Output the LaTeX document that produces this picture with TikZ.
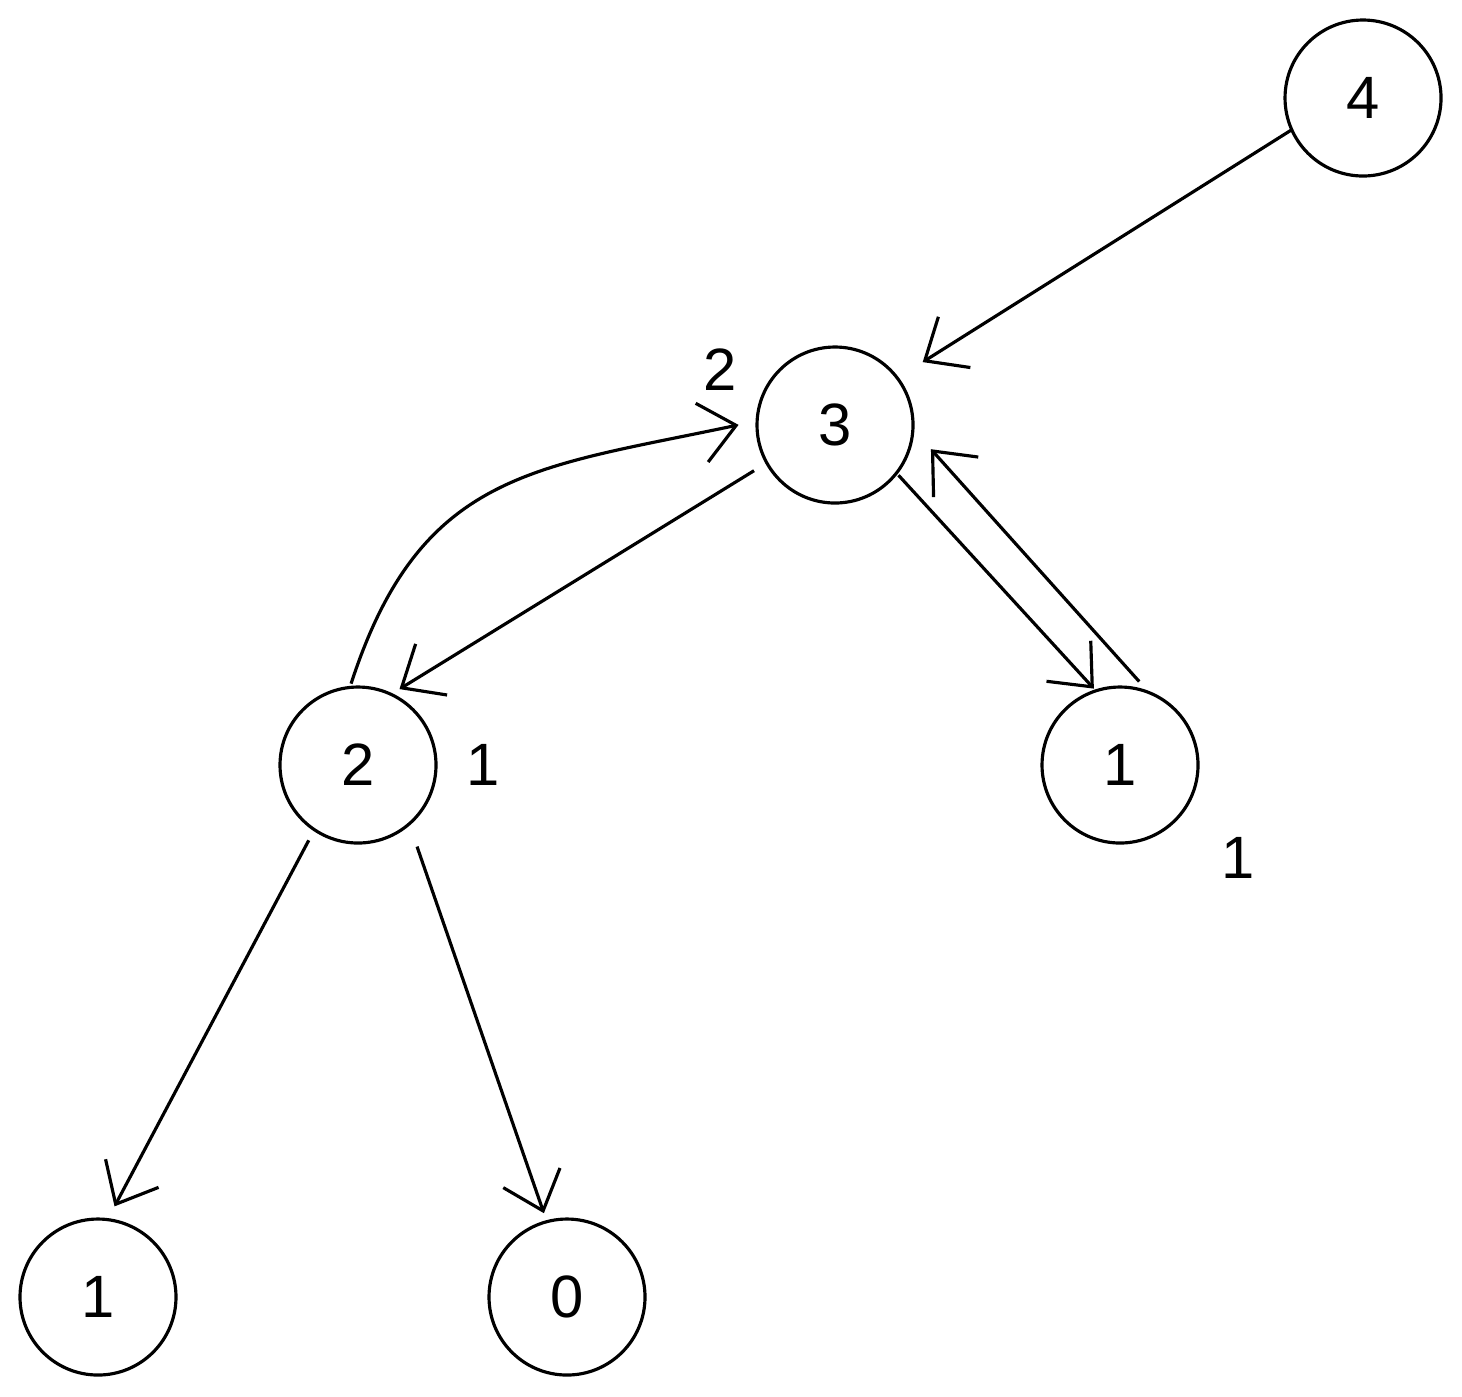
\documentclass[tikz,border=0pt]{standalone}
\usepackage{fontspec}
\setmainfont{Liberation Sans}
\usetikzlibrary{arrows.meta}
\tikzset{
  vertex/.style={draw,circle,line width=0.9pt,minimum size=1.56cm,inner sep=0pt,outer sep=0pt,font=\fontsize{17}{19}\selectfont},
  edge/.style={line width=0.9pt,-{Straight Barb[length=3.5mm,width=6mm]}},
  tag/.style={font=\fontsize{17}{19}\selectfont}
}
\begin{document}
\begin{tikzpicture}
	\useasboundingbox (0,0) rectangle (14.62,-13.96);
	%% vertices
	\node[vertex] (n4) at (13.63,-0.98) {4};
	\node[vertex] (n3) at (8.35,-4.25) {3};
	\node[vertex] (n2) at (3.58,-7.65) {2};
	\node[vertex] (n1r) at (11.20,-7.65) {1};
	\node[vertex] (n1l) at (0.98,-12.97) {1};
	\node[vertex] (n0) at (5.67,-12.97) {0};
	%% side labels
	\node[tag] (t3) at (7.20,-3.70) {2};
	\node[tag] (t2) at (4.83,-7.65) {1};
	\node[tag] (t1) at (12.38,-8.58) {1};
	%% edges
	\draw[edge,shorten >=0.3cm] (n4.204) -- (n3.37);
	\draw[edge,shorten <=0.15cm,shorten >=0.1cm] (n3.209) -- (n2.65);
	\draw[edge,shorten <=0.03cm,shorten >=0.03cm] (n3.322) -- (n1r.108);
	\draw[edge,shorten <=0.15cm,shorten >=0.27cm] (n1r.68) -- (n3.357);
	\draw[edge,shorten <=0.04cm,shorten >=0.19cm] (n2.96) to[out=72,in=192,looseness=1.2] (n3.177);
	\draw[edge,shorten <=0.12cm,shorten >=0.15cm] (n2.236) -- (n1l.83);
	\draw[edge,shorten <=0.24cm,shorten >=0.09cm] (n2.311) -- (n0.105);
\end{tikzpicture}
\end{document}
